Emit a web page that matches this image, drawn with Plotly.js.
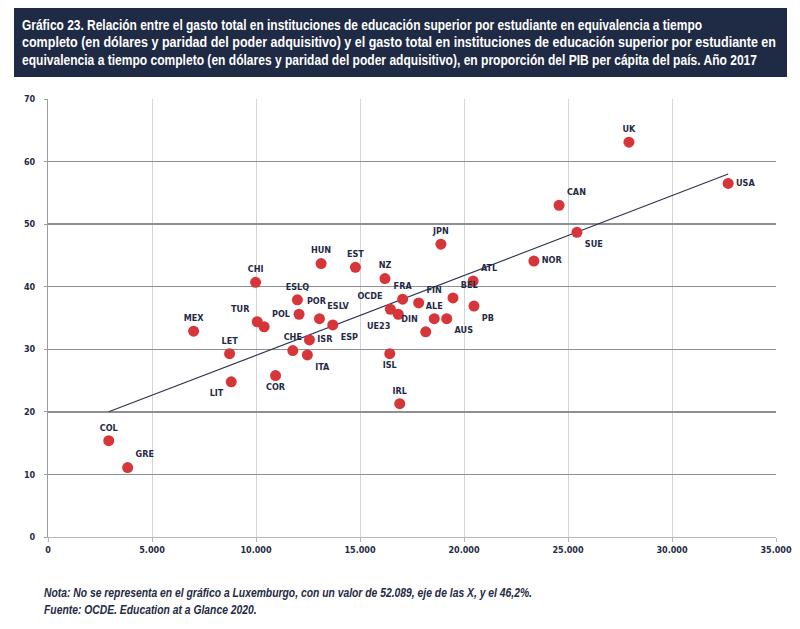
<!DOCTYPE html>
<html>
<head>
<meta charset="utf-8">
<script src="https://cdn.plot.ly/plotly-3.0.1.min.js"></script>
<style>
  html, body { margin: 0; padding: 0; background: #fff; }
  #wrap { position: relative; width: 800px; height: 629px; overflow: hidden; }
  #chart { position: absolute; left: 0; top: 0; width: 800px; height: 629px; }
  #head { position: absolute; left: 14px; top: 8px; width: 773px; height: 69px; background: #1f2a44; }
  .hl { position: absolute; left: 8px; white-space: nowrap; color: #fff; transform-origin: 0 50%;
        font-family: "Liberation Sans", Arial, sans-serif; font-weight: bold; font-size: 15px; line-height: 16px; }
  .fl { position: absolute; left: 44px; white-space: nowrap; color: #1f2a44; transform-origin: 0 50%;
        font-family: "Liberation Sans", Arial, sans-serif; font-weight: bold; font-style: italic; font-size: 12px; line-height: 14px; }
</style>
</head>
<body>
<div id="wrap">
  <div id="chart"></div>
  <div id="head">
    <div class="hl" id="h1" style="top:8.5px">Gráfico 23. Relación entre el gasto total en instituciones de educación superior por estudiante en equivalencia a tiempo</div>
    <div class="hl" id="h2" style="top:26px">completo (en dólares y paridad del poder adquisitivo) y el gasto total en instituciones de educación superior por estudiante en</div>
    <div class="hl" id="h3" style="top:43.5px">equivalencia a tiempo completo (en dólares y paridad del poder adquisitivo), en proporción del PIB per cápita del país. Año 2017</div>
  </div>
  <div class="fl" id="f1" style="top:586px">Nota: No se representa en el gráfico a Luxemburgo, con un valor de 52.089, eje de las X, y el 46,2%.</div>
  <div class="fl" id="f2" style="top:603px">Fuente: OCDE. Education at a Glance 2020.</div>
</div>
<script>
// ---- data ----
const countries = ["COL","GRE","MEX","LET","LIT","CHI","TUR","POL","COR","ESLQ","POR","CHE","ISR","ITA","ESLV","ESP","HUN","EST","NZ","OCDE","UE23","FRA","ISL","IRL","FIN","ALE","DIN","AUS","BEL","ATL","PB","JPN","NOR","CAN","SUE","UK","USA"];
const spending = [2920,3830,7000,8730,8810,9980,10060,10390,10940,11990,12070,11770,12570,12470,13050,13690,13130,14780,16200,16460,16840,17050,16430,16910,17820,18570,18160,19170,19470,20440,20480,18890,23360,24570,25430,27930,32700];
const pctGDP = [15.4,11.1,32.9,29.3,24.8,40.7,34.4,33.6,25.8,37.9,35.6,29.8,31.5,29.1,34.9,33.9,43.7,43.1,41.3,36.4,35.6,38.0,29.3,21.3,37.4,34.9,32.8,34.9,38.2,40.9,36.9,46.8,44.1,53.0,48.7,63.1,56.5];
const trendX = [2920, 32700];
const trendY = [20.0, 58.0];
const xTicks = [0,5000,10000,15000,20000,25000,30000,35000];
const yTicks = [0,10,20,30,40,50,60,70];

// ---- label placement (style config) ----
const labelPos = {
  COL:"top center", GRE:"top right", MEX:"top center", LET:"top center", LIT:"bottom left",
  CHI:"top center", TUR:"top left", POL:"top right", COR:"bottom center", ESLQ:"top center",
  POR:"top right", CHE:"top center", ISR:"middle right", ITA:"bottom right", ESLV:"top right",
  ESP:"bottom right", HUN:"top center", EST:"top center", NZ:"top center", OCDE:"top left",
  UE23:"bottom left", FRA:"top center", ISL:"bottom center", IRL:"top center", FIN:"top right",
  ALE:"top center", DIN:"top left", AUS:"bottom right", BEL:"top right", ATL:"top right",
  PB:"bottom right", JPN:"top center", NOR:"middle right", CAN:"top right", SUE:"bottom right",
  UK:"top center", USA:"middle right"
};

// fit header / footer lines horizontally (condensed look)
function fit(id, target) {
  const el = document.getElementById(id);
  const w = el.getBoundingClientRect().width;
  el.style.transform = 'scaleX(' + (target / w) + ')';
}
fit('h1', 680); fit('h2', 754); fit('h3', 735);
const fw = document.getElementById('f1').getBoundingClientRect().width;
const fs = 488 / fw;
['f1','f2'].forEach(id => document.getElementById(id).style.transform = 'scaleX(' + fs + ')');

const FONT = '"DejaVu Sans Condensed", "Liberation Sans", sans-serif';
const NAVY = '#1f2a44';

const traces = [
  {
    x: trendX, y: trendY, mode: 'lines', type: 'scatter',
    line: {color: '#2b3350', width: 1.1}, hoverinfo: 'skip', showlegend: false
  },
  {
    x: spending, y: pctGDP, text: countries, mode: 'markers+text', type: 'scatter',
    textposition: countries.map(c => labelPos[c]),
    textfont: {family: FONT, size: 9, color: NAVY, weight: 'bold'},
    marker: {color: '#d6363a', size: 11, line: {width: 0}},
    cliponaxis: false, showlegend: false
  }
];

const layout = {
  width: 800, height: 629,
  margin: {l: 47.5, r: 24, t: 99, b: 91.5, pad: 0},
  paper_bgcolor: '#fff', plot_bgcolor: '#fff',
  separators: ',.',
  font: {family: FONT, size: 9, color: NAVY, weight: 'bold'},
  xaxis: {
    range: [0, 35000], tickvals: xTicks, tickformat: ',d',
    showgrid: true, gridcolor: '#d4d4d6', gridwidth: 1,
    zeroline: false, showline: true, linecolor: '#b8b8bc', linewidth: 1,
    ticks: 'outside', ticklen: 4, tickcolor: '#b8b8bc',
    tickfont: {family: FONT, size: 9, color: NAVY, weight: 'bold'}
  },
  yaxis: {
    range: [0, 70], tickvals: yTicks,
    showgrid: true, gridcolor: '#8e8e94', gridwidth: 1.3,
    zeroline: false, showline: true, linecolor: '#9a9aa0', linewidth: 1,
    ticks: 'outside', ticklen: 3, tickcolor: '#9a9aa0', ticklabelstandoff: 7,
    tickfont: {family: FONT, size: 9, color: NAVY, weight: 'bold'}
  }
};

Plotly.newPlot('chart', traces, layout, {displayModeBar: false, staticPlot: true});
</script>
</body>
</html>
